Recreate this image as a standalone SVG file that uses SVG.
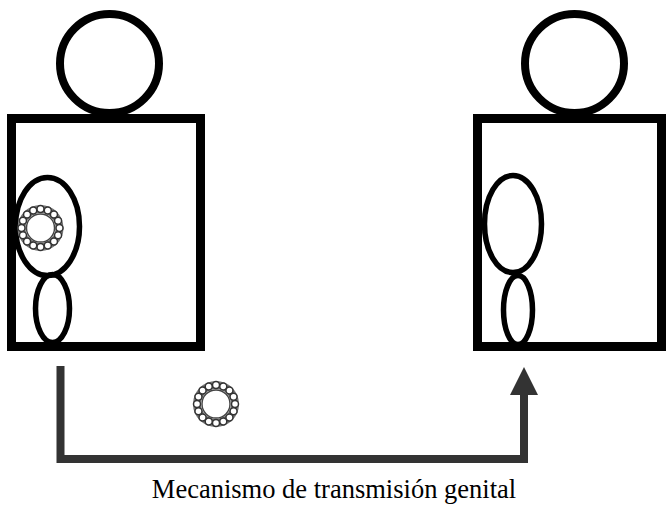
<svg xmlns="http://www.w3.org/2000/svg" width="667" height="512" viewBox="0 0 667 512">
  <style>
    .head { fill: #fff; stroke: #000; stroke-width: 8; }
    .body { fill: #fff; stroke: #000; stroke-width: 9; }
    .organ { fill: none; stroke: #000; stroke-width: 5.5; }
    .flow { fill: none; stroke: #333; stroke-width: 8; }
    .bead { fill: #fff; stroke: #333; stroke-width: 1.5; }
    .label { font-family: "Liberation Serif", "Times New Roman", serif; font-size: 26.5px; fill: #000; }
  </style>
  <defs>
    <!-- ring of beads (microorganism) -->
    <g id="ring">
      <circle r="19" fill="none" stroke="#777" stroke-width="8"/>
      <circle class="bead" cx="19" cy="0" r="3.5"/>
      <circle class="bead" cx="17.55" cy="7.27" r="3.5"/>
      <circle class="bead" cx="13.44" cy="13.44" r="3.5"/>
      <circle class="bead" cx="7.27" cy="17.55" r="3.5"/>
      <circle class="bead" cx="0" cy="19" r="3.5"/>
      <circle class="bead" cx="-7.27" cy="17.55" r="3.5"/>
      <circle class="bead" cx="-13.44" cy="13.44" r="3.5"/>
      <circle class="bead" cx="-17.55" cy="7.27" r="3.5"/>
      <circle class="bead" cx="-19" cy="0" r="3.5"/>
      <circle class="bead" cx="-17.55" cy="-7.27" r="3.5"/>
      <circle class="bead" cx="-13.44" cy="-13.44" r="3.5"/>
      <circle class="bead" cx="-7.27" cy="-17.55" r="3.5"/>
      <circle class="bead" cx="0" cy="-19" r="3.5"/>
      <circle class="bead" cx="7.27" cy="-17.55" r="3.5"/>
      <circle class="bead" cx="13.44" cy="-13.44" r="3.5"/>
      <circle class="bead" cx="17.55" cy="-7.27" r="3.5"/>
      <circle r="14" fill="#fff" stroke="#444" stroke-width="1.4"/>
    </g>
  </defs>

  <!-- left person: carrier -->
  <g id="person-left">
    <circle class="head" cx="109.5" cy="63.5" r="49.5"/>
    <rect class="body" x="11.5" y="118.5" width="189" height="228"/>
    <ellipse class="organ" cx="47.5" cy="226.5" rx="32" ry="49"/>
    <ellipse class="organ" cx="52.5" cy="308.5" rx="17" ry="34"/>
    <use href="#ring" x="40.5" y="228"/>
  </g>

  <!-- right person: recipient -->
  <g id="person-right">
    <circle class="head" cx="574.5" cy="63.5" r="49.5"/>
    <rect class="body" x="477.5" y="118.5" width="184" height="228"/>
    <ellipse class="organ" cx="513" cy="224" rx="28.5" ry="48.5"/>
    <ellipse class="organ" cx="518" cy="310" rx="14.5" ry="34.5"/>
  </g>

  <!-- transmission path -->
  <g id="connectors">
    <polyline class="flow" points="60.5,366 60.5,459 524,459 524,392"/>
    <polygon points="510,395 538,395 524,367" fill="#333"/>
  </g>

  <g id="agent">
    <use href="#ring" x="216" y="404"/>
  </g>

  <text class="label" x="334" y="498" text-anchor="middle">Mecanismo de transmisión genital</text>
</svg>
